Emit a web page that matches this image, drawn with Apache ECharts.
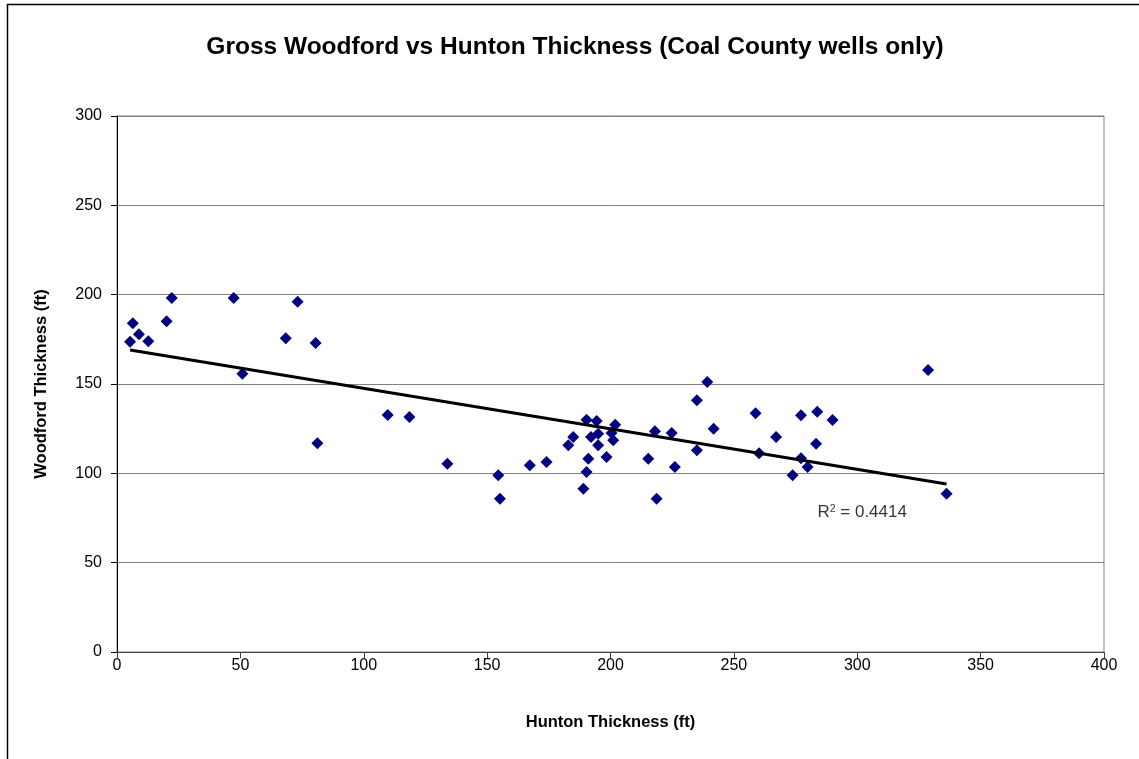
<!DOCTYPE html>
<html>
<head>
<meta charset="utf-8">
<script src="https://cdn.jsdelivr.net/npm/echarts@6/dist/echarts.min.js"></script>
<style>
html,body{margin:0;padding:0;background:#fff;}
#main{width:1139px;height:759px;}
</style>
</head>
<body>
<div id="main"></div>
<script>
// Data
var huntonThickness = [5.3, 6.4, 8.9, 12.7, 20.1, 22.2, 47.3, 50.8, 68.4, 73.2, 80.5, 81.2,
  109.7, 118.5, 133.9, 154.5, 155.2, 167.3, 174.1, 182.9, 184.9, 189.0, 190.3, 190.3,
  191.0, 192.1, 194.4, 195.0, 195.0, 198.4, 200.4, 201.9, 201.1, 215.3, 218.0, 218.7,
  224.8, 226.1, 235.0, 235.0, 239.2, 241.8, 258.8, 260.2, 267.1, 273.8, 277.2, 277.2,
  279.9, 283.3, 283.8, 290.0, 328.7, 336.2];
var woodfordThickness = [173.7, 184.0, 177.8, 173.9, 185.1, 198.1, 198.1, 155.8, 175.6, 196.1, 172.9, 116.8,
  132.6, 131.5, 105.4, 98.9, 85.8, 104.5, 106.3, 115.7, 120.3, 91.4, 130.0, 100.7,
  108.2, 120.3, 129.3, 122.2, 115.7, 109.1, 122.6, 127.2, 118.5, 108.2, 123.5, 85.8,
  122.6, 103.5, 140.9, 112.9, 151.1, 125.0, 133.6, 111.2, 120.3, 98.9, 132.5, 108.4,
  103.5, 116.6, 134.5, 129.8, 157.8, 88.6];
var trendX = [5.3, 336.2];
var trendY = [169.0, 94.0];
var r2Value = '0.4414';
var r2Anchor = [302, 78];
var xTicks = [0, 50, 100, 150, 200, 250, 300, 350, 400];
var yTicks = [0, 50, 100, 150, 200, 250, 300];

var FONT = '"Liberation Sans", Arial, sans-serif';
var points = huntonThickness.map(function (x, i) { return [x, woodfordThickness[i]]; });
var trend = trendX.map(function (x, i) { return [x, trendY[i]]; });

var chart = echarts.init(document.getElementById('main'));
chart.setOption({
  backgroundColor: '#ffffff',
  animation: false,
  title: {
    text: 'Gross Woodford vs Hunton Thickness (Coal County wells only)',
    left: 570, top: 30, textAlign: 'center',
    textStyle: { fontFamily: FONT, fontSize: 24.5, fontWeight: 'bold', color: '#000' }
  },
  graphic: [{
    type: 'rect', left: 5, top: 2, silent: true,
    shape: { width: 1133, height: 800 },
    style: { fill: 'none', stroke: '#000', lineWidth: 1.5 }
  }],
  grid: {
    left: 117, right: 35, top: 116, bottom: 107,
    show: true, borderColor: '#808080', borderWidth: 1, backgroundColor: '#fff'
  },
  xAxis: {
    type: 'value', min: xTicks[0], max: xTicks[xTicks.length - 1], interval: 50,
    name: 'Hunton Thickness (ft)', nameLocation: 'middle', nameGap: 62,
    nameTextStyle: { fontFamily: FONT, fontSize: 16.5, fontWeight: 'bold', color: '#000' },
    axisLine: { show: true, onZero: false, lineStyle: { color: '#404040', width: 1 } },
    axisTick: { show: true, inside: false, length: 6, lineStyle: { color: '#404040' } },
    axisLabel: { margin: 6, fontFamily: FONT, fontSize: 16, color: '#000' },
    splitLine: { show: false }
  },
  yAxis: {
    type: 'value', min: yTicks[0], max: yTicks[yTicks.length - 1], interval: 50,
    name: 'Woodford Thickness (ft)', nameLocation: 'middle', nameGap: 67,
    nameTextStyle: { fontFamily: FONT, fontSize: 16.5, fontWeight: 'bold', color: '#000' },
    axisLine: { show: true, onZero: false, lineStyle: { color: '#000', width: 1 } },
    axisTick: { show: true, inside: false, length: 6, lineStyle: { color: '#000' } },
    axisLabel: { margin: 15, fontFamily: FONT, fontSize: 16, color: '#000' },
    splitLine: { show: true, lineStyle: { color: '#808080', width: 1 } }
  },
  series: [
    {
      type: 'scatter', name: 'Wells', data: points,
      symbol: 'diamond', symbolSize: 12,
      itemStyle: { color: '#000080', opacity: 1 }, z: 3
    },
    {
      type: 'line', name: 'Trend', data: trend, symbol: 'none',
      lineStyle: { color: '#000', width: 3 }, z: 4
    },
    {
      type: 'scatter', name: 'R2', data: [r2Anchor], symbolSize: 0, silent: true,
      label: { show: true, position: 'inside',
        formatter: '{a|R}{b|2}{a| = ' + r2Value + '}',
        rich: {
          a: { fontFamily: FONT, fontSize: 17, color: '#000' },
          b: { fontFamily: FONT, fontSize: 10.5, color: '#000', verticalAlign: 'top', padding: [0, 0, 8, 0] }
        }
      }
    }
  ]
});
</script>
</body>
</html>
